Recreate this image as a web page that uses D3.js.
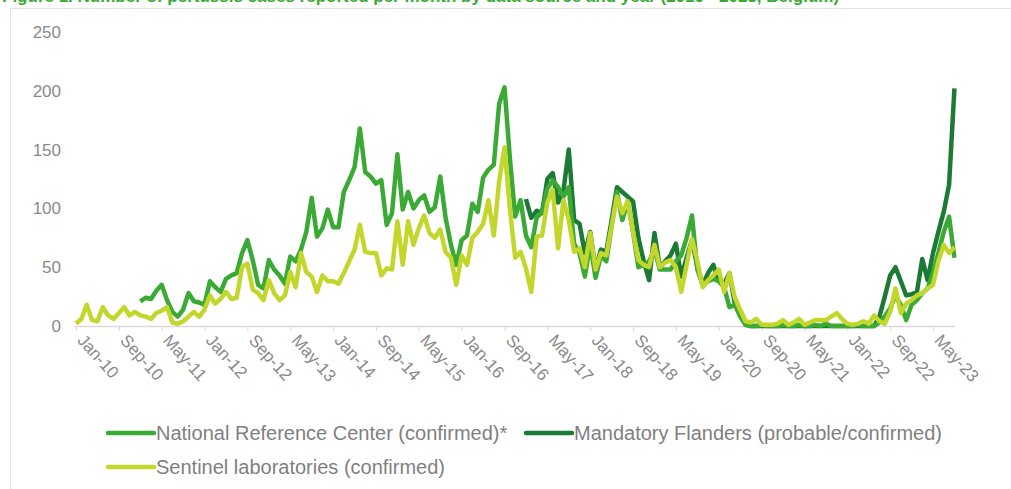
<!DOCTYPE html>
<html>
<head>
<meta charset="utf-8">
<script src="https://cdn.jsdelivr.net/npm/d3@7"></script>
<style>
  body { margin: 0; background: #fff; }
  svg { display: block; font-family: "Liberation Sans", Arial, sans-serif; }
</style>
</head>
<body>
<div id="chart"></div>
<script>
// Monthly counts, Jan-10 .. Sep-23 (index 0 = Jan-10), null = no data
const tickLabels = ["Jan-10", "Sep-10", "May-11", "Jan-12", "Sep-12", "May-13", "Jan-14", "Sep-14",
  "May-15", "Jan-16", "Sep-16", "May-17", "Jan-18", "Sep-18", "May-19", "Jan-20", "Sep-20",
  "May-21", "Jan-22", "Sep-22", "May-23"];

const nrc = [
  null, null, null, null, null, null, null, null, null, null, null, null,
  21, 24, 23, 30, 35, 22, 12, 8, 14, 28, 21, 20,
  18, 38, 33, 29, 40, 43, 45, 62, 73, 56, 35, 32,
  56, 48, 43, 36, 59, 55, 65, 80, 109, 76, 83, 99,
  84, 84, 114, 124, 135, 168, 131, 127, 121, 124, 86, 96,
  146, 99, 114, 100, 107, 111, 97, 101, 127, 92, 69, 52,
  73, 77, 104, 97, 126, 133, 137, 189, 203, 143, 93, 107,
  77, 67, 92, 97, 117, 124, 118, 110, 118, 70, 62, 42,
  70, 41, 60, 55, 85, 114, 90, 106, 80, 50, 52, 55,
  65, 48, 48, 48, 55, 60, 75, 94, 48, 35, 38, 40,
  38, 33, 16, 18, 8, 1, 0, 0, 1, 0, 0, 0,
  1, 0, 0, 1, 0, 0, 1, 0, 2, 0, 0, 0,
  0, 0, 1, 0, 0, 0, 3, 8, 15, 26, 18, 5,
  18, 22, 28, 32, 45, 62, 80, 93, 58
];

const flanders = [
  null, null, null, null, null, null, null, null, null, null, null, null,
  null, null, null, null, null, null, null, null, null, null, null, null,
  null, null, null, null, null, null, null, null, null, null, null, null,
  null, null, null, null, null, null, null, null, null, null, null, null,
  null, null, null, null, null, null, null, null, null, null, null, null,
  null, null, null, null, null, null, null, null, null, null, null, null,
  null, null, null, null, null, null, null, null, null, null, null, null,
  108, 92, 98, 96, 125, 130, 105, 115, 150, 90, 87, 62,
  80, 48, 65, 63, 90, 118, 114, 110, 106, 75, 55, 39,
  79, 50, 55, 60, 70, 42, 58, 73, 50, 35, 45, 52,
  38, 36, 45, 19, 10, 1, 0, 0, 0, 0, 0, 0,
  0, 0, 0, 0, 0, 0, 0, 0, 0, 0, 0, 0,
  0, 0, 0, 0, 0, 0, 8, 25, 43, 50, 38, 26,
  27, 29, 57, 39, 62, 80, 97, 120, 202
];

const sentinel = [
  2, 6, 18, 5, 4, 16, 9, 6, 11, 16, 9, 12,
  9, 8, 6, 11, 13, 16, 3, 2, 4, 8, 12, 8,
  14, 26, 19, 23, 29, 23, 24, 50, 53, 31, 28, 22,
  39, 28, 22, 26, 46, 33, 62, 46, 42, 29, 43, 38,
  38, 36, 45, 55, 65, 86, 63, 62, 62, 43, 49, 48,
  89, 52, 89, 69, 83, 94, 79, 75, 82, 63, 58, 35,
  60, 52, 75, 80, 87, 107, 77, 123, 152, 100, 58, 63,
  49, 29, 76, 77, 105, 116, 66, 107, 90, 63, 66, 50,
  79, 48, 62, 60, 85, 110, 96, 106, 80, 56, 52, 50,
  69, 50, 54, 56, 50, 29, 52, 74, 55, 33, 39, 43,
  48, 29, 45, 24, 14, 4, 3, 6, 1, 1, 1, 2,
  5, 1, 3, 6, 1, 3, 5, 5, 5, 8, 11, 6,
  2, 1, 2, 4, 2, 9, 4, 2, 12, 32, 11, 19,
  22, 26, 28, 32, 35, 55, 69, 62, 67
];

const seriesNames = ["National Reference Center (confirmed)*", "Mandatory Flanders (probable/confirmed)", "Sentinel laboratories (confirmed)"];
const seriesColors = ["#3aaa35", "#1b7a33", "#c3d62b"];

const width = 1011, height = 489;
const svg = d3.select("#chart").append("svg")
  .attr("width", width)
  .attr("height", height);

// title, cut off at the top edge as in the source image
svg.append("text")
  .attr("x", 2)
  .attr("y", 2)
  .attr("fill", "#3aaa35")
  .attr("font-size", 17)
  .attr("font-weight", "bold")
  .text("Figure 1. Number of pertussis cases reported per month by data source and year (2010 - 2023, Belgium)");

// chart frame
svg.append("rect")
  .attr("x", 10.5).attr("y", 8.5)
  .attr("width", 1010).attr("height", 490)
  .attr("fill", "none")
  .attr("stroke", "#e3e3e3");

const x = d3.scaleLinear().domain([0, 160]).range([76, 933]);
const y = d3.scaleLinear().domain([0, 250]).range([326, 32]);

// y axis labels (no gridlines)
const yAxis = svg.append("g")
  .attr("transform", "translate(61,0)")
  .call(d3.axisLeft(y).tickValues([0, 50, 100, 150, 200, 250]).tickSize(0).tickPadding(0));
yAxis.select(".domain").remove();
yAxis.selectAll("text")
  .attr("fill", "#8a8a8a")
  .attr("font-size", 17)
  .attr("font-family", "Liberation Sans, Arial, sans-serif");

// x axis
const xAxis = svg.append("g")
  .attr("transform", `translate(0,${y(0)})`)
  .call(d3.axisBottom(x)
    .tickValues(d3.range(0, 161, 8))
    .tickFormat((d, i) => tickLabels[i])
    .tickSize(5)
    .tickSizeOuter(0));
xAxis.select(".domain").remove();
xAxis.append("line")
  .attr("x1", x(0) - 1).attr("x2", x(164) + 1)
  .attr("y1", 0.5).attr("y2", 0.5)
  .attr("stroke", "#d9d9d9")
  .attr("stroke-width", 1.5);
xAxis.selectAll(".tick line").attr("stroke", "#d9d9d9");
xAxis.selectAll("text")
  .attr("fill", "#8a8a8a")
  .attr("font-size", 17)
  .attr("font-family", "Liberation Sans, Arial, sans-serif")
  .attr("text-anchor", "start")
  .attr("dy", null)
  .attr("y", 0)
  .attr("transform", "translate(0,15) rotate(48)");

// lines: Flanders below, then NRC, then sentinel on top
const line = d3.line()
  .defined(d => d != null)
  .x((d, i) => x(i))
  .y(d => y(d));

[[flanders, seriesColors[1]], [nrc, seriesColors[0]], [sentinel, seriesColors[2]]].forEach(([data, color]) => {
  svg.append("path")
    .datum(data)
    .attr("fill", "none")
    .attr("stroke", color)
    .attr("stroke-width", 4.5)
    .attr("stroke-linejoin", "round")
    .attr("d", line);
});

// legend
const legendItems = [
  { name: seriesNames[0], color: seriesColors[0], x: 108, y: 433 },
  { name: seriesNames[1], color: seriesColors[1], x: 526, y: 433 },
  { name: seriesNames[2], color: seriesColors[2], x: 108, y: 467 }
];
const legend = svg.append("g");
legendItems.forEach(item => {
  legend.append("line")
    .attr("x1", item.x).attr("x2", item.x + 46)
    .attr("y1", item.y).attr("y2", item.y)
    .attr("stroke", item.color)
    .attr("stroke-width", 4.5)
    .attr("stroke-linecap", "round");
  legend.append("text")
    .attr("x", item.x + 48)
    .attr("y", item.y)
    .attr("dy", "0.35em")
    .attr("fill", "#7f7f7f")
    .attr("font-size", 20)
    .text(item.name);
});
</script>
</body>
</html>
